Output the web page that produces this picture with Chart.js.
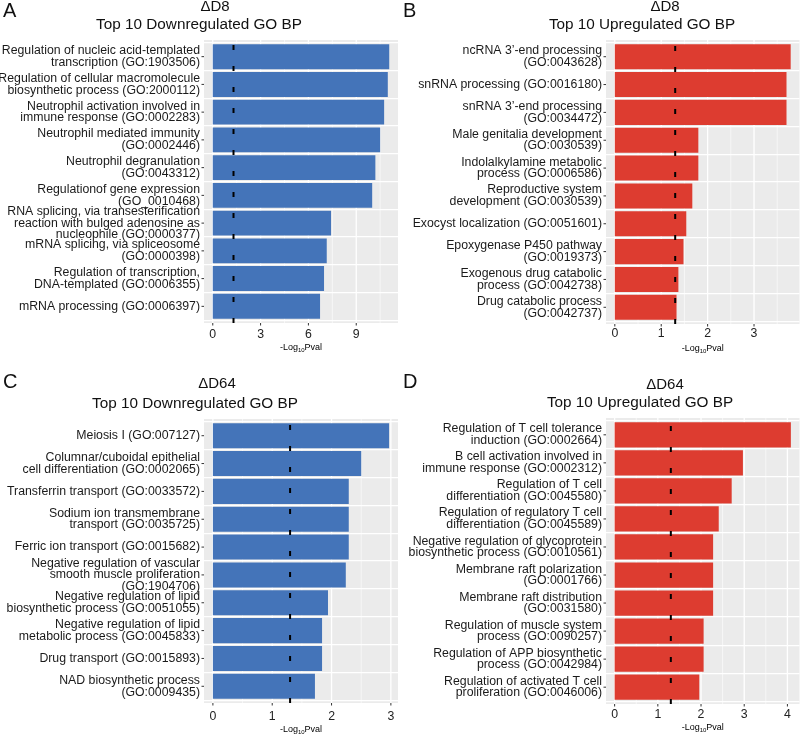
<!DOCTYPE html>
<html>
<head>
<meta charset="utf-8">
<script src="https://cdn.jsdelivr.net/npm/chart.js@4.4.1/dist/chart.umd.min.js"></script>
<style>
  html, body { margin: 0; padding: 0; background: #fff; }
  #wrap { position: relative; width: 800px; height: 734px; overflow: hidden; }
  .panel { position: absolute; width: 400px; height: 367px; }
</style>
</head>
<body>
<div id="wrap">
  <div class="panel" style="left:0;top:0"><canvas id="panelA" width="400" height="367"></canvas></div>
  <div class="panel" style="left:400px;top:0"><canvas id="panelB" width="400" height="367"></canvas></div>
  <div class="panel" style="left:0;top:367px"><canvas id="panelC" width="400" height="367"></canvas></div>
  <div class="panel" style="left:400px;top:367px"><canvas id="panelD" width="400" height="367"></canvas></div>
</div>
<script>
// ---------------------------- Données ------------------------------------
const labelsA = [
    ['Regulation of nucleic acid-templated', 'transcription (GO:1903506)'],
    ['Regulation of cellular macromolecule', 'biosynthetic process (GO:2000112)'],
    ['Neutrophil activation involved in', 'immune response (GO:0002283)'],
    ['Neutrophil mediated immunity', '(GO:0002446)'],
    ['Neutrophil degranulation', '(GO:0043312)'],
    ['Regulationof gene expression', '(GO_0010468)'],
    ['RNA splicing, via transesterification', 'reaction with bulged adenosine as', 'nucleophile (GO:0000377)'],
    ['mRNA splicing, via spliceosome', '(GO:0000398)'],
    ['Regulation of transcription,', 'DNA-templated (GO:0006355)'],
    ['mRNA processing (GO:0006397)']
];
const valuesA = [11.07, 10.98, 10.75, 10.5, 10.2, 10.0, 7.42, 7.15, 6.98, 6.73];
const ticksA = [0, 3, 6, 9];

const labelsB = [
    ['ncRNA 3\u2019-end processing', '(GO:0043628)'],
    ['snRNA processing (GO:0016180)'],
    ['snRNA 3\u2019-end processing', '(GO:0034472)'],
    ['Male genitalia development', '(GO:0030539)'],
    ['Indolalkylamine metabolic', 'process (GO:0006586)'],
    ['Reproductive system', 'development (GO:0030539)'],
    ['Exocyst localization (GO:0051601)'],
    ['Epoxygenase P450 pathway', '(GO:0019373)'],
    ['Exogenous drug catabolic', 'process (GO:0042738)'],
    ['Drug catabolic process', '(GO:0042737)']
];
const valuesB = [3.79, 3.70, 3.70, 1.80, 1.80, 1.67, 1.54, 1.48, 1.37, 1.33];
const ticksB = [0, 1, 2, 3];

const labelsC = [
    ['Meiosis I (GO:007127)'],
    ['Columnar/cuboidal epithelial', 'cell differentiation (GO:0002065)'],
    ['Transferrin transport (GO:0033572)'],
    ['Sodium ion transmembrane', 'transport (GO:0035725)'],
    ['Ferric ion transport (GO:0015682)'],
    ['Negative regulation of vascular', 'smooth muscle proliferation', '(GO:1904706)'],
    ['Negative regulation of lipid', 'biosynthetic process (GO:0051055)'],
    ['Negative regulation of lipid', 'metabolic process (GO:0045833)'],
    ['Drug transport (GO:0015893)'],
    ['NAD biosynthetic process', '(GO:0009435)']
];
const valuesC = [2.97, 2.50, 2.29, 2.29, 2.29, 2.24, 1.94, 1.84, 1.84, 1.72];
const ticksC = [0, 1, 2, 3];

const labelsD = [
    ['Regulation of T cell tolerance', 'induction (GO:0002664)'],
    ['B cell activation involved in', 'immune response (GO:0002312)'],
    ['Regulation of T cell', 'differentiation (GO:0045580)'],
    ['Regulation of regulatory T cell', 'differentiation (GO:0045589)'],
    ['Negative regulation of glycoprotein', 'biosynthetic process (GO:0010561)'],
    ['Membrane raft polarization', '(GO:0001766)'],
    ['Membrane raft distribution', '(GO:0031580)'],
    ['Regulation of muscle system', 'process (GO:0090257)'],
    ['Regulation of APP biosynthetic', 'process (GO:0042984)'],
    ['Regulation of activated T cell', 'proliferation (GO:0046006)']
];
const valuesD = [4.08, 2.97, 2.71, 2.41, 2.28, 2.28, 2.28, 2.06, 2.06, 1.96];
const ticksD = [0, 1, 2, 3, 4];

const pvalSeuil = 0.05;

// ---------------------------- Mise en page ------------------------------------
const FONT = '"Liberation Sans", Arial, Helvetica, sans-serif';
const BLUE = '#4474B9';
const RED = '#DD3C30';

// top/bottom = zone grise, left/right = zone grise, tickY = centre des graduations x
const panels = [
    { id: 'panelA', letter: 'A', sub: '\u0394D8', title: 'Top 10 Downregulated GO BP', labels: labelsA, values: valuesA, ticks: ticksA,
      color: BLUE, min: -0.55, max: 11.62, top: 40, bottom: 323, left: 204, right: 398, tickY: 334, axisY: 346.5,
      letterY: 17, subX: 215, subY: 11, titleX: 199, titleY: 29 },
    { id: 'panelB', letter: 'B', sub: '\u0394D8', title: 'Top 10 Upregulated GO BP', labels: labelsB, values: valuesB, ticks: ticksB,
      color: RED, min: -0.19, max: 3.98, top: 40, bottom: 324, left: 206, right: 399.5, tickY: 333, axisY: 348,
      letterY: 17, subX: 265, subY: 10.7, titleX: 242, titleY: 28.5 },
    { id: 'panelC', letter: 'C', sub: '\u0394D64', title: 'Top 10 Downregulated GO BP', labels: labelsC, values: valuesC, ticks: ticksC,
      color: BLUE, min: -0.15, max: 3.12, top: 52, bottom: 336, left: 204, right: 398, tickY: 349, axisY: 361.5,
      letterY: 21, subX: 217, subY: 21, titleX: 195, titleY: 40.5 },
    { id: 'panelD', letter: 'D', sub: '\u0394D64', title: 'Top 10 Upregulated GO BP', labels: labelsD, values: valuesD, ticks: ticksD,
      color: RED, min: -0.2, max: 4.28, top: 51, bottom: 337, left: 206, right: 399.5, tickY: 347, axisY: 360,
      letterY: 21, subX: 265, subY: 22, titleX: 240, titleY: 40 }
];

function panelPlugin(p) {
    return {
        id: 'panelDeco',
        beforeDraw(chart) {
            const { ctx, chartArea } = chart;
            const xs = chart.scales.x;
            ctx.save();
            ctx.fillStyle = '#EBEBEB';
            ctx.fillRect(chartArea.left, p.top, chartArea.right - chartArea.left, p.bottom - p.top);
            ctx.strokeStyle = '#FFFFFF';
            xs.ticks.forEach(t => {
                const x = xs.getPixelForValue(t.value);
                ctx.lineWidth = p.ticks.includes(t.value) ? 1.3 : 0.6;
                ctx.beginPath();
                ctx.moveTo(x, p.top);
                ctx.lineTo(x, p.bottom);
                ctx.stroke();
            });
            ctx.restore();
        },
        afterDatasetsDraw(chart) {
            const { ctx, chartArea } = chart;
            const xs = chart.scales.x;
            const ys = chart.scales.y;
            ctx.save();
            // ligne de seuil p = 0.05
            const xs05 = xs.getPixelForValue(-Math.log10(pvalSeuil));
            ctx.strokeStyle = '#000';
            ctx.lineWidth = 2;
            ctx.setLineDash([5, 16]);
            ctx.beginPath();
            ctx.moveTo(xs05, p.bottom);
            ctx.lineTo(xs05, p.top);
            ctx.stroke();
            ctx.setLineDash([]);

            // petites graduations
            ctx.strokeStyle = '#333';
            ctx.lineWidth = 1;
            p.labels.forEach((l, i) => {
                const y = ys.getPixelForValue(i);
                ctx.beginPath();
                ctx.moveTo(chartArea.left - 2.5, y);
                ctx.lineTo(chartArea.left, y);
                ctx.stroke();
            });
            p.ticks.forEach(v => {
                const x = xs.getPixelForValue(v);
                ctx.beginPath();
                ctx.moveTo(x, p.bottom);
                ctx.lineTo(x, p.bottom + 2.5);
                ctx.stroke();
            });

            // titre de l'axe x : -Log10Pval
            ctx.fillStyle = '#000';
            ctx.textBaseline = 'alphabetic';
            ctx.textAlign = 'left';
            const f1 = `9px ${FONT}`, f2 = `6px ${FONT}`;
            ctx.font = f1;
            const w1 = ctx.measureText('-Log').width, w3 = ctx.measureText('Pval').width;
            ctx.font = f2;
            const w2 = ctx.measureText('10').width;
            let x0 = (chartArea.left + chartArea.right) / 2 - (w1 + w2 + w3) / 2;
            const base = p.axisY + 3.2;
            ctx.font = f1; ctx.fillText('-Log', x0, base);
            ctx.font = f2; ctx.fillText('10', x0 + w1, base + 2);
            ctx.font = f1; ctx.fillText('Pval', x0 + w1 + w2, base);

            // titres du panneau
            ctx.fillStyle = '#111';
            ctx.font = `20px ${FONT}`;
            ctx.fillText(p.letter, 3, p.letterY);
            ctx.textAlign = 'center';
            ctx.font = `15px ${FONT}`;
            ctx.fillText(p.sub, p.subX, p.subY);
            ctx.font = `15.3px ${FONT}`;
            ctx.fillText(p.title, p.titleX, p.titleY);
            ctx.restore();
        }
    };
}

function makePanel(p) {
    const canvas = document.getElementById(p.id);
    const step = p.ticks[1] - p.ticks[0];
    const gridValues = [];
    p.ticks.forEach(v => {
        gridValues.push(v);
        if (v + step / 2 < p.max) gridValues.push(v + step / 2);
    });
    // zone des barres : on retire l'expansion ggplot (0.1 unité de chaque côté)
    const ext = (p.bottom - p.top) * 0.1 / 10.2;
    const chartTop = p.top + ext;
    const chartBottom = p.bottom - ext;

    new Chart(canvas, {
        type: 'bar',
        data: {
            labels: p.labels,
            datasets: [{
                data: p.values,
                backgroundColor: p.color,
                borderWidth: 0,
                barPercentage: 0.9,
                categoryPercentage: 1.0
            }]
        },
        options: {
            indexAxis: 'y',
            responsive: false,
            animation: false,
            devicePixelRatio: 1,
            layout: { padding: { top: chartTop, right: 400 - p.right, bottom: 0, left: 0 } },
            plugins: {
                legend: { display: false },
                tooltip: { enabled: false }
            },
            scales: {
                x: {
                    type: 'linear',
                    min: p.min,
                    max: p.max,
                    grid: { display: false, drawTicks: false },
                    border: { display: false },
                    afterBuildTicks: s => { s.ticks = gridValues.map(v => ({ value: v })); },
                    afterFit: s => {
                        s.height = 367 - chartBottom;
                        s.paddingLeft = 0;
                        s.paddingRight = 0;
                    },
                    ticks: {
                        autoSkip: false,
                        maxRotation: 0,
                        padding: p.tickY - chartBottom - 6.5,
                        color: '#222',
                        font: { family: FONT, size: 12.3 },
                        callback: v => (p.ticks.includes(v) ? String(v) : '')
                    }
                },
                y: {
                    type: 'category',
                    offset: true,
                    grid: { offset: true, color: '#FFFFFF', lineWidth: 1.2, drawTicks: false },
                    border: { display: false },
                    afterFit: s => { s.width = p.left; },
                    ticks: {
                        autoSkip: false,
                        padding: 4,
                        color: '#1a1a1a',
                        font: { family: FONT, size: 12.3, lineHeight: 0.95 }
                    }
                }
            }
        },
        plugins: [panelPlugin(p)]
    });
}

document.addEventListener('DOMContentLoaded', () => {
    panels.forEach(makePanel);
});
</script>
</body>
</html>
